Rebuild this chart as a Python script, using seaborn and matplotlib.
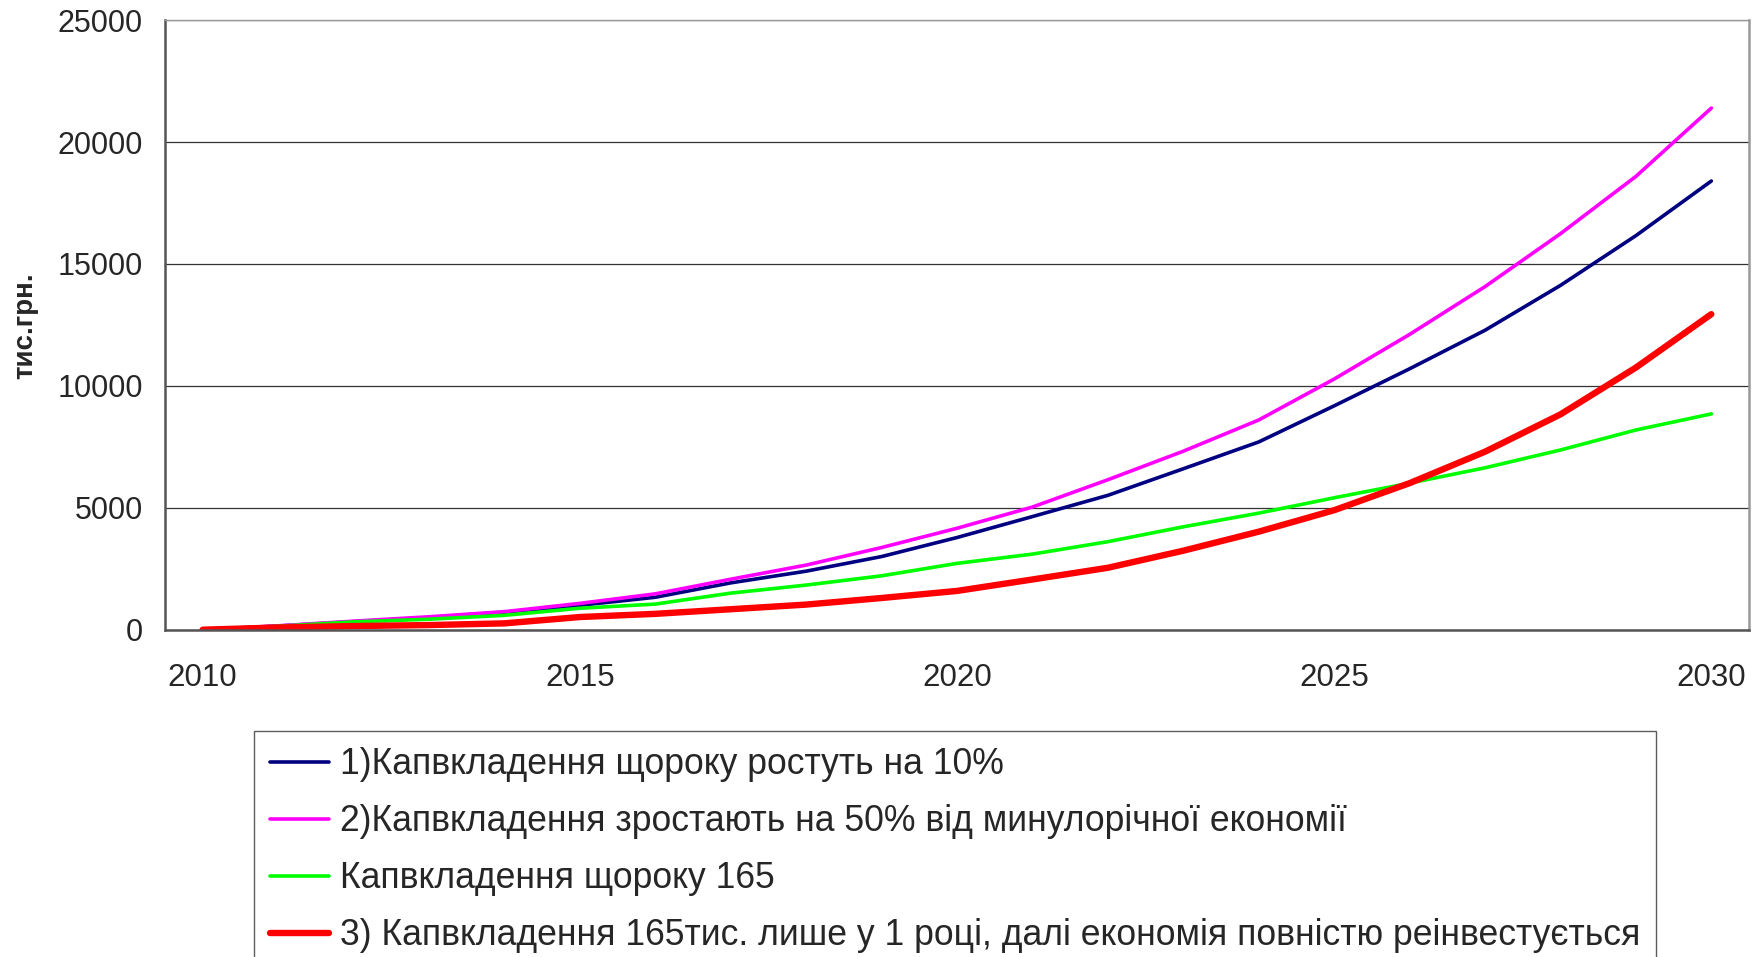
import pandas as pd
import matplotlib
matplotlib.use('Agg')
import matplotlib.pyplot as plt
from matplotlib import font_manager
import seaborn as sns
import numpy as np

# data
years = list(range(2010, 2031))
s1 = [0, 150, 330, 500, 720, 1000, 1330, 1920, 2400, 3000, 3780, 4640, 5510, 6600, 7700,
      9180, 10700, 12280, 14120, 16160, 18400]
s2 = [0, 160, 350, 530, 740, 1080, 1470, 2070, 2650, 3370, 4160, 5030, 6150, 7320, 8600,
      10280, 12110, 14070, 16240, 18590, 21390]
s3 = [0, 140, 320, 430, 590, 880, 1050, 1500, 1830, 2210, 2720, 3100, 3610, 4220, 4780,
      5410, 6010, 6640, 7370, 8190, 8850]
s4 = [0, 90, 150, 190, 260, 520, 650, 840, 1030, 1300, 1590, 2060, 2540, 3240, 4020,
      4900, 6010, 7300, 8830, 10750, 12940]

labels = ['1)Капвкладення щороку ростуть на 10%',
          '2)Капвкладення зростають на 50% від минулорічної економії',
          'Капвкладення щороку 165',
          '3) Капвкладення 165тис. лише у 1 році, далі економія повністю реінвестується']
colors = ['#000080', '#FF00FF', '#00FF00', '#FF0000']
widths = [2.6, 2.6, 2.6, 4.6]

sns.set_style('white')
plt.rcParams['font.family'] = ['Liberation Sans', 'DejaVu Sans']

names = {f.name for f in font_manager.fontManager.ttflist}
legend_font = 'Liberation Sans Narrow' if 'Liberation Sans Narrow' in names else 'Liberation Sans'

fig = plt.figure(figsize=(17.55, 9.57), dpi=100)
ax = fig.add_axes([0.094, 0.342, 0.9026, 0.637])

for vals, lab, col, lw in zip([s1, s2, s3, s4], labels, colors, widths):
    df = pd.DataFrame({'year': years, 'value': vals})
    sns.lineplot(data=df, x='year', y='value', ax=ax, color=col, linewidth=lw,
                 label=lab, solid_capstyle='round')

ax.set_xlim(2009.5, 2030.5)
ax.set_ylim(0, 25000)
ax.set_yticks(np.arange(0, 25001, 5000))
ax.set_xticks([2010, 2015, 2020, 2025, 2030])
ax.set_xticks(np.arange(2009.5, 2031, 1), minor=True)
ax.tick_params(axis='x', which='major', length=0, pad=24, labelsize=22.5)
ax.tick_params(axis='x', which='minor', length=7, width=1.2, color='#444444', direction='out')
ax.tick_params(axis='y', length=6, width=1.2, color='#444444', direction='out', pad=10, labelsize=22)
ax.set_xlabel('')
ax.set_ylabel('')
ax.yaxis.grid(True, color='#333333', linewidth=0.9)
ax.set_axisbelow(True)

for side in ['left', 'bottom']:
    ax.spines[side].set_color('#555555')
    ax.spines[side].set_linewidth(1.8)
ax.spines['right'].set_color('#999999')
ax.spines['right'].set_linewidth(1.8)
ax.spines['top'].set_color('#999999')
ax.spines['top'].set_linewidth(1.0)

fig.text(0.0145, 0.66, 'тис.грн.', rotation=90, ha='center', va='center',
         fontsize=20, fontweight='bold')

ax.get_legend().remove()
handles, labs = ax.get_legend_handles_labels()
leg = fig.legend(handles, labs, loc='upper left', bbox_to_anchor=(0.145, 0.236),
                 bbox_transform=fig.transFigure, frameon=True, fancybox=False,
                 prop={'family': legend_font, 'size': 25.6}, handlelength=1.65,
                 handletextpad=0.3, labelspacing=0.62, borderpad=0.45,
                 borderaxespad=0)
leg.get_frame().set_edgecolor('#333333')
leg.get_frame().set_linewidth(1.0)

plt.savefig('out.png', dpi=100)
